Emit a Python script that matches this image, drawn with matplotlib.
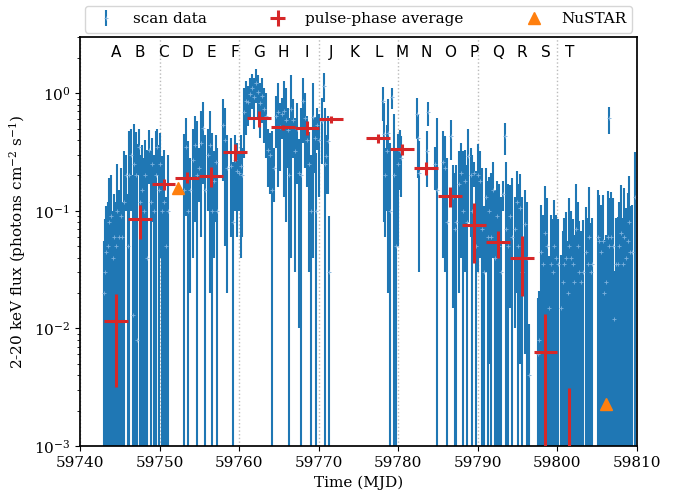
import matplotlib
matplotlib.use("Agg")
import matplotlib.pyplot as plt
from matplotlib.transforms import blended_transform_factory

plt.rcParams["font.family"] = "serif"
plt.rcParams["font.serif"] = ["DejaVu Serif"]
plt.rcParams["mathtext.fontset"] = "dejavuserif"
plt.rcParams["font.size"] = 11
plt.rcParams["axes.linewidth"] = 1.25

# scan data (MJD, flux, 1-sigma error)
scan_t = [
    59743.0, 59743.15, 59743.3, 59743.5, 59743.7, 59743.9, 59744.1, 59744.3, 59744.5, 59744.7,
    59744.9, 59745.1, 59745.3, 59745.5, 59745.8, 59746.0, 59746.2, 59746.4, 59746.6, 59746.8,
    59747.0, 59747.2, 59747.4, 59747.6, 59747.8, 59748.0, 59748.2, 59748.4, 59748.7, 59748.9,
    59749.1, 59749.3, 59749.5, 59749.7, 59749.9, 59750.1, 59750.3, 59750.5, 59750.8, 59751.0,
    59753.07, 59753.32, 59753.57, 59753.82, 59754.2, 59754.45, 59754.7, 59754.95, 59755.2, 59755.46,
    59755.71, 59756.09, 59756.34, 59756.59, 59756.84, 59757.09, 59757.22, 59757.97, 59758.22, 59758.47,
    59758.98, 59759.23, 59759.48, 59759.73, 59759.98, 59760.23, 59760.36,
    59760.61, 59760.86, 59761.11, 59761.36, 59761.62, 59761.87, 59762.12, 59762.37, 59762.62, 59762.87,
    59763.12, 59763.38, 59763.63, 59763.88, 59764.13, 59764.38, 59764.63, 59764.88, 59765.13, 59765.39,
    59765.64, 59765.89, 59766.14, 59766.27, 59766.52, 59766.77, 59767.02, 59767.27, 59767.52, 59767.77,
    59768.03, 59768.28, 59768.53, 59768.78, 59769.03, 59769.28, 59769.53, 59769.79, 59770.04, 59769.66,
    59770.41, 59770.66, 59770.79, 59770.92, 59771.17, 59771.29,
    59778.08, 59778.21, 59778.39, 59778.58, 59778.77, 59778.96, 59779.21, 59779.46, 59779.71, 59779.96,
    59780.22, 59780.4,
    59782.35, 59782.48, 59782.6, 59783.61, 59783.73, 59784.61, 59784.87,
    59785.62, 59785.87, 59786.12, 59786.63, 59786.88, 59787.07, 59787.25, 59787.63, 59787.88, 59788.13,
    59788.38, 59788.64, 59788.82, 59789.08, 59789.26, 59789.52, 59789.77, 59790.02, 59790.27, 59790.52,
    59790.77, 59791.02, 59791.28, 59791.46, 59791.65, 59791.9, 59792.15, 59792.41, 59792.66, 59792.91,
    59793.16, 59793.41, 59793.6, 59793.85, 59794.1, 59794.35, 59794.61, 59794.86, 59795.05, 59795.3,
    59795.55, 59795.93, 59796.24, 59796.43,
    59797.6, 59797.73, 59797.9, 59798.15, 59798.44, 59798.73, 59798.98, 59799.15, 59799.41, 59799.61,
    59799.82, 59800.11, 59800.45, 59800.66, 59800.87, 59801.08, 59801.29, 59801.5, 59801.71, 59801.92,
    59802.12, 59802.34, 59802.55, 59802.75, 59802.96, 59803.17, 59803.59, 59803.8, 59803.97, 59804.18,
    59804.35, 59805.06, 59805.27, 59805.48, 59805.69, 59805.89, 59806.1, 59806.32, 59806.52, 59806.73,
    59806.94, 59807.15, 59807.36, 59807.57, 59807.78, 59807.99, 59808.2, 59808.4, 59808.62, 59808.83,
    59808.95, 59809.12, 59809.33, 59809.79, 59806.48,
]
scan_f = [
    0.02, 0.03, 0.045, 0.05, 0.08, 0.09, 0.04, 0.06, 0.05, 0.1,
    0.06, 0.09, 0.06, 0.12, 0.2, 0.05, 0.2, 0.3, 0.013, 0.25,
    0.2, 0.008, 0.35, 0.12, 0.15, 0.1, 0.2, 0.04, 0.33, 0.12,
    0.25, 0.1, 0.2, 0.35, 0.15, 0.25, 0.1, 0.12, 0.05, 0.1,
    0.15, 0.35, 0.1, 0.15, 0.27, 0.36, 0.2, 0.23, 0.38, 0.51,
    0.15, 0.3, 0.36, 0.1, 0.18, 0.26, 0.1, 0.54, 0.4, 0.23,
    0.24, 0.08, 0.27, 0.22, 0.21, 0.24, 0.2,
    0.69, 0.86, 0.84, 0.98, 1.1, 0.92, 1.22, 1.03, 0.82, 0.95,
    0.74, 0.64, 0.33, 0.3, 0.15, 0.23, 0.64, 0.69, 0.52, 0.66,
    0.7, 0.59, 0.49, 0.2, 0.73, 0.59, 0.32, 0.5, 0.21, 0.2,
    0.86, 0.62, 0.4, 0.25, 0.1, 0.63, 0.42, 0.54, 0.4, 0.1,
    0.58, 1.16, 0.25, 0.29, 0.39, 0.03,
    0.86, 0.45, 0.2, 0.32, 0.46, 0.1, 0.92, 0.2, 0.05, 0.25,
    0.32, 0.28,
    0.66, 0.42, 0.21, 0.32, 0.69, 0.25, 0.15,
    0.26, 0.23, 0.08, 0.43, 0.13, 0.07, 0.08, 0.17, 0.21, 0.1,
    0.18, 0.08, 0.29, 0.2, 0.1, 0.21, 0.05, 0.2, 0.18, 0.07,
    0.03, 0.13, 0.06, 0.1, 0.06, 0.15, 0.04, 0.09, 0.05, 0.03,
    0.14, 0.43, 0.07, 0.05, 0.09, 0.06, 0.07, 0.12, 0.05, 0.105,
    0.03, 0.078, 0.04, 0.004,
    0.006, 0.008, 0.045, 0.035, 0.065, 0.05, 0.015, 0.035, 0.03, 0.05,
    0.04, 0.035, 0.015, 0.025, 0.035, 0.04, 0.02, 0.05, 0.04, 0.035,
    0.025, 0.07, 0.05, 0.03, 0.025, 0.03, 0.045, 0.035, 0.06, 0.03,
    0.035, 0.06, 0.055, 0.045, 0.055, 0.02, 0.025, 0.06, 0.05, 0.06,
    0.05, 0.012, 0.035, 0.035, 0.05, 0.065, 0.035, 0.06, 0.04, 0.055,
    0.08, 0.045, 0.045, 0.13, 0.61,
]
scan_e = [
    0.035, 0.055, 0.065, 0.07, 0.11, 0.11, 0.06, 0.08, 0.07, 0.15,
    0.09, 0.14, 0.06, 0.2, 0.1, 0.09, 0.28, 0.2, 0.19, 0.3,
    0.27, 0.36, 0.15, 0.18, 0.21, 0.18, 0.2, 0.29, 0.16, 0.2,
    0.17, 0.2, 0.28, 0.15, 0.21, 0.21, 0.19, 0.21, 0.08, 0.2,
    0.3, 0.26, 0.29, 0.13, 0.23, 0.28, 0.38, 0.11, 0.32, 0.34,
    0.29, 0.2, 0.34, 0.36, 0.14, 0.18, 0.24, 0.36, 0.35, 0.21,
    0.18, 0.18, 0.17, 0.16, 0.11, 0.2, 0.14,
    0.41, 0.42, 0.31, 0.36, 0.37, 0.42, 0.4, 0.4, 0.4, 0.39,
    0.36, 0.36, 0.17, 0.16, 0.33, 0.11, 0.3, 0.53, 0.3, 0.25,
    0.57, 0.51, 0.26, 0.41, 0.69, 0.31, 0.29, 0.33, 0.2, 0.55,
    0.48, 0.39, 0.24, 0.22, 0.2, 0.59, 0.21, 0.21, 0.27, 0.21,
    0.33, 0.32, 0.5, 0.15, 0.25, 0.06,
    0.28, 0.37, 0.14, 0.22, 0.44, 0.28, 0.18, 0.47, 0.28, 0.2,
    0.17, 0.15,
    0.25, 0.23, 0.18, 0.16, 0.16, 0.1, 0.46,
    0.22, 0.2, 0.2, 0.16, 0.115, 0.14, 0.165, 0.15, 0.17, 0.22,
    0.15, 0.165, 0.21, 0.14, 0.2, 0.05, 0.17, 0.17, 0.14, 0.16,
    0.08, 0.1, 0.12, 0.095, 0.15, 0.11, 0.11, 0.09, 0.12, 0.1,
    0.04, 0.13, 0.19, 0.12, 0.075, 0.13, 0.06, 0.1, 0.12, 0.1,
    0.1, 0.072, 0.08, 0.007,
    0.012, 0.013, 0.067, 0.057, 0.097, 0.078, 0.026, 0.057, 0.055, 0.073,
    0.052, 0.05, 0.027, 0.042, 0.052, 0.058, 0.035, 0.078, 0.06, 0.05,
    0.037, 0.098, 0.07, 0.052, 0.042, 0.053, 0.062, 0.052, 0.099, 0.049,
    0.052, 0.09, 0.081, 0.067, 0.081, 0.036, 0.037, 0.087, 0.078, 0.084,
    0.078, 0.019, 0.052, 0.053, 0.07, 0.1, 0.052, 0.096, 0.065, 0.086,
    0.117, 0.064, 0.067, 0.185, 0.16,
]

# 3-day segments A..T
seg_labels = ["A", "B", "C", "D", "E", "F", "G", "H", "I", "J",
              "K", "L", "M", "N", "O", "P", "Q", "R", "S", "T"]
seg_t = [59744.5, 59747.5, 59750.5, 59753.5, 59756.5, 59759.5, 59762.5, 59765.5, 59768.5, 59771.5,
         59774.5, 59777.5, 59780.5, 59783.5, 59786.5, 59789.5, 59792.5, 59795.5, 59798.5, 59801.5]
seg_halfwidth = 1.5

# pulse-phase averages (no K)
avg_t = [59744.5, 59747.5, 59750.5, 59753.5, 59756.5, 59759.5, 59762.5, 59765.5, 59768.5, 59771.5,
         59777.5, 59780.5, 59783.5, 59786.5, 59789.5, 59792.5, 59795.5, 59798.5, 59801.5]
avg_f = [0.0115, 0.085, 0.168, 0.192, 0.198, 0.318, 0.61, 0.513, 0.51, 0.598,
         0.414, 0.334, 0.23, 0.133, 0.076, 0.054, 0.0397, 0.0063, 0.0004]
avg_e = [0.0083, 0.027, 0.017, 0.02, 0.04, 0.055, 0.09, 0.022, 0.07, 0.045,
         0.035, 0.035, 0.03, 0.025, 0.04, 0.014, 0.021, 0.0069, 0.0027]

# NuSTAR
nu_t = [59752.3, 59806.1]
nu_f = [0.156, 0.00228]

fig = plt.figure(figsize=(6.89, 4.95), dpi=100)
ax = fig.add_axes([0.1161, 0.099, 0.8084, 0.826])

h_scan = ax.errorbar(scan_t, scan_f, yerr=scan_e, fmt="+", ms=2.5, mew=0.6, color="tab:blue",
                     mec="#7fb2dd", ecolor="tab:blue", elinewidth=1.5, label="scan data", zorder=2)
h_avg = ax.errorbar(avg_t, avg_f, xerr=seg_halfwidth, yerr=avg_e, fmt="none", ecolor="tab:red",
                    elinewidth=2.2, label="pulse-phase average", zorder=3)
h_nu, = ax.plot(nu_t, nu_f, "^", color="tab:orange", ms=8, ls="none", label="NuSTAR", zorder=4)

ax.set_yscale("log")
ax.set_xlim(59740, 59810)
ax.set_ylim(1e-3, 3)
ax.grid(axis="x", ls=":", color="#bbbbbb", lw=1)

trans = blended_transform_factory(ax.transData, ax.transAxes)
for lab, t in zip(seg_labels, seg_t):
    ax.text(t, 0.963, lab, transform=trans, ha="center", va="center",
            family="DejaVu Sans", fontsize=11)

ax.set_xlabel("Time (MJD)")
ax.set_ylabel("2-20 keV flux (photons cm$^{-2}$ s$^{-1}$)")

ax.legend(handles=[h_scan, h_avg, h_nu], loc="lower left",
          bbox_to_anchor=(0.0, 1.0, 1.0, 0.05), mode="expand",
          ncol=3, borderaxespad=0.3, fontsize=11)

fig.savefig("out.png", dpi=100)
